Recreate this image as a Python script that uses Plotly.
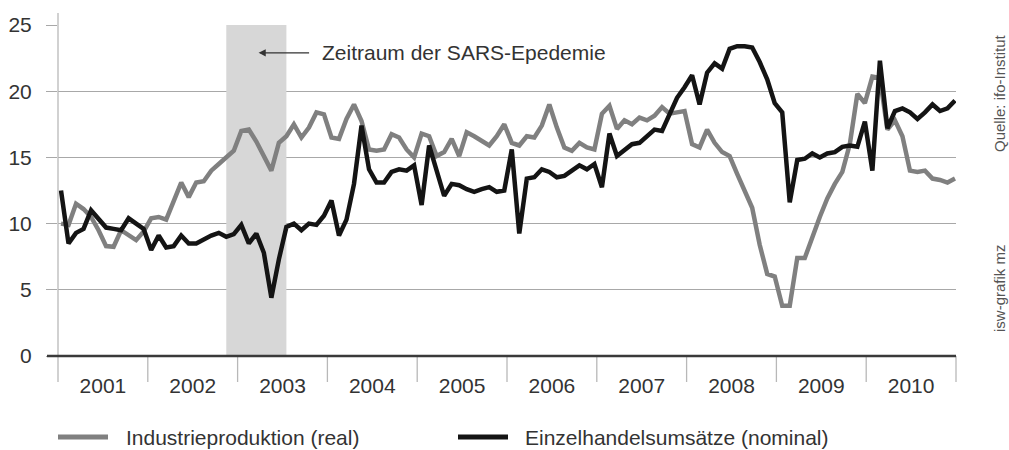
import numpy as np
import plotly.graph_objects as go

# ---- data (monthly, Jan 2001 .. Dec 2010), year-over-year change in % ----
years = ["2001", "2002", "2003", "2004", "2005", "2006", "2007", "2008", "2009", "2010"]

industrie = [
    10.0, 9.9, 11.5, 11.1, 10.5, 9.5, 8.3, 8.25, 9.5, 9.1, 8.75, 9.4,          # 2001
    10.4, 10.5, 10.3, 11.7, 13.1, 12.0, 13.1, 13.2, 14.0, 14.5, 15.0, 15.5,    # 2002
    17.0, 17.1, 16.2, 15.1, 14.0, 16.1, 16.6, 17.5, 16.5, 17.25, 18.4, 18.25,  # 2003
    16.5, 16.4, 17.9, 19.0, 17.75, 15.6, 15.5, 15.6, 16.75, 16.5, 15.6, 15.0,  # 2004
    16.8, 16.6, 15.1, 15.4, 16.4, 15.1, 16.9, 16.6, 16.25, 15.9, 16.6, 17.5,   # 2005
    16.1, 15.9, 16.6, 16.5, 17.4, 19.0, 17.25, 15.75, 15.5, 16.1, 15.75, 15.6, # 2006
    18.3, 18.9, 17.15, 17.8, 17.5, 18.0, 17.8, 18.15, 18.8, 18.3, 18.4, 18.5,  # 2007
    16.0, 15.75, 17.1, 16.1, 15.4, 15.1, 13.75, 12.4, 11.2, 8.4, 6.2, 6.0,     # 2008
    3.8, 3.8, 7.4, 7.4, 9.0, 10.5, 11.9, 13.0, 13.9, 16.0, 19.8, 19.1,         # 2009
    21.1, 21.0, 17.1, 17.8, 16.6, 14.0, 13.9, 14.0, 13.4, 13.3, 13.1, 13.4,    # 2010
]

einzelhandel = [
    12.5, 8.5, 9.3, 9.6, 11.0, 10.4, 9.7, 9.6, 9.5, 10.4, 10.0, 9.6,          # 2001
    8.0, 9.1, 8.2, 8.3, 9.1, 8.5, 8.5, 8.8, 9.1, 9.3, 9.0, 9.2,               # 2002
    9.9, 8.5, 9.25, 7.8, 4.4, 7.3, 9.75, 10.0, 9.5, 10.0, 9.9, 10.6,          # 2003
    11.75, 9.1, 10.3, 13.0, 17.4, 14.1, 13.1, 13.1, 13.9, 14.1, 14.0, 14.4,   # 2004
    11.4, 15.9, 14.0, 12.1, 13.0, 12.9, 12.6, 12.4, 12.6, 12.75, 12.4, 12.5,  # 2005
    15.6, 9.25, 13.4, 13.5, 14.1, 13.9, 13.5, 13.6, 14.0, 14.4, 14.1, 14.5,   # 2006
    12.75, 16.8, 15.1, 15.6, 16.0, 16.1, 16.6, 17.1, 17.0, 18.3, 19.5, 20.3,  # 2007
    21.2, 19.0, 21.4, 22.1, 21.7, 23.2, 23.4, 23.4, 23.3, 22.2, 20.9, 19.1,   # 2008
    18.4, 11.6, 14.8, 14.9, 15.3, 15.0, 15.3, 15.4, 15.8, 15.9, 15.8, 17.7,   # 2009
    14.0, 22.3, 17.2, 18.5, 18.7, 18.4, 17.9, 18.4, 19.0, 18.5, 18.7, 19.3,   # 2010
]

name_industrie = "Industrieproduktion (real)"
name_einzelhandel = "Einzelhandelsumsätze (nominal)"
sars_label = "Zeitraum der SARS-Epedemie"
sars_start_month = 22   # Nov 2002 (index in monthly series)
sars_end_month = 30     # Jul 2003
y_ticks = [0, 5, 10, 15, 20, 25]
source_text = "Quelle: ifo-Institut"
credit_text = "isw-grafik mz"

# ---- styling ----
FONT = "Liberation Sans, Arial, Helvetica, sans-serif"
TXT = "#333333"
GRID = "#a8a8a8"
SEP = "#b8b8b8"
GRAY = "#808080"
BLACK = "#141414"

months = np.arange(len(industrie))
x_lo, x_hi = -0.4, 119.13
bounds = np.linspace(x_lo, x_hi, len(years) + 1)
mids = (bounds[:-1] + bounds[1:]) / 2

fig = go.Figure()
fig.add_trace(go.Scatter(x=months, y=industrie, mode="lines", name=name_industrie,
                         line=dict(color=GRAY, width=4.5), showlegend=False))
fig.add_trace(go.Scatter(x=months, y=einzelhandel, mode="lines", name=name_einzelhandel,
                         line=dict(color=BLACK, width=4.5), showlegend=False))

ML, MR, MT, MB = 58, 53, 25, 94
plot_h = 450 - MT - MB
plot_w = 1009 - ML - MR

# pixel helpers (reference pixel coordinates -> paper coords)
def px_x(px):
    return (px - ML) / plot_w

def px_y(py):
    return (450 - MB - py) / plot_h

shapes = []
# SARS period shading
shapes.append(dict(type="rect", xref="x", yref="y", x0=sars_start_month, x1=sars_end_month,
                   y0=0, y1=25, fillcolor="#d7d7d7", line=dict(width=0), layer="between"))
# left axis line (extends above top grid line)
shapes.append(dict(type="line", xref="paper", yref="paper", x0=0, x1=0, y0=0,
                   y1=1 + 12 / plot_h, line=dict(color=SEP, width=1.3), layer="above"))
# year separator ticks below the baseline
for k in range(len(years) + 1):
    shapes.append(dict(type="line", xref="paper", yref="paper", x0=k / len(years), x1=k / len(years),
                       y0=-26 / plot_h, y1=0, line=dict(color=SEP, width=1.3), layer="above"))
# baseline
shapes.append(dict(type="line", xref="paper", yref="paper", x0=-11 / plot_w, x1=1, y0=0, y1=0,
                   line=dict(color="#3a3a3a", width=2.5), layer="above"))
# legend swatches
leg_y = px_y(437)
shapes.append(dict(type="line", xref="paper", yref="paper", x0=px_x(58), x1=px_x(108), y0=leg_y, y1=leg_y,
                   line=dict(color=GRAY, width=5)))
shapes.append(dict(type="line", xref="paper", yref="paper", x0=px_x(458), x1=px_x(508),
                   y0=leg_y, y1=leg_y, line=dict(color=BLACK, width=5)))

annotations = [
    dict(xref="paper", yref="paper", x=px_x(124), y=leg_y, text=name_industrie, showarrow=False,
         xanchor="left", yanchor="middle", font=dict(family=FONT, size=21, color=TXT)),
    dict(xref="paper", yref="paper", x=px_x(523), y=leg_y, text=name_einzelhandel, showarrow=False,
         xanchor="left", yanchor="middle", font=dict(family=FONT, size=21, color=TXT)),
    dict(xref="x", yref="y", x=34.5, y=22.9, text=sars_label, showarrow=False,
         xanchor="left", yanchor="middle", font=dict(family=FONT, size=21, color=TXT)),
    dict(xref="x", yref="y", x=26.3, y=22.9, text="", showarrow=True, axref="pixel", ayref="pixel",
         ax=52, ay=0, arrowhead=2, arrowsize=1.1, arrowwidth=1.3, arrowcolor="#333333"),
    dict(xref="paper", yref="paper", x=px_x(1000), y=px_y(93), text=source_text,
         textangle=-90, showarrow=False, xanchor="center", yanchor="middle",
         font=dict(family=FONT, size=15, color="#555555")),
    dict(xref="paper", yref="paper", x=px_x(999), y=px_y(288), text=credit_text,
         textangle=-90, showarrow=False, xanchor="center", yanchor="middle",
         font=dict(family=FONT, size=15, color="#555555")),
]

fig.update_layout(
    width=1009, height=450,
    margin=dict(l=ML, r=MR, t=MT, b=MB, autoexpand=False),
    paper_bgcolor="white", plot_bgcolor="white",
    font=dict(family=FONT, color=TXT),
    shapes=shapes, annotations=annotations,
    showlegend=False,
    xaxis=dict(range=[x_lo, x_hi], tickmode="array", tickvals=mids, ticktext=years,
               ticks="", showgrid=False, zeroline=False, showline=False, automargin=False,
               tickfont=dict(family=FONT, size=21, color=TXT), ticklabelstandoff=15),
    yaxis=dict(range=[0, 25], tickmode="array", tickvals=y_ticks, showgrid=True,
               gridcolor=GRID, gridwidth=1.3, zeroline=False, showline=False, automargin=False,
               ticks="outside", ticklen=11, tickcolor=GRID, tickwidth=1.3,
               tickfont=dict(family=FONT, size=21, color=TXT), ticklabelstandoff=10),
)

fig.write_html("out.html", config={"displayModeBar": False},
               post_script="document.body.style.margin='0px';document.body.style.overflow='hidden';")
